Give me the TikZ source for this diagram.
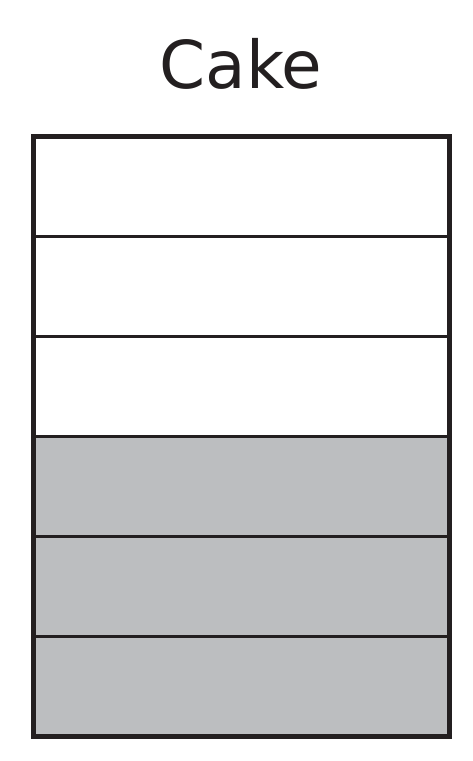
\documentclass[tikz,border=0pt]{standalone}
\usepackage{fontspec}
\setmainfont{DejaVu Sans}
\definecolor{inkdark}{HTML}{231F20}
\definecolor{cakegray}{HTML}{BCBEC0}
\begin{document}
\begin{tikzpicture}[x=1pt,y=-1pt]
        \useasboundingbox (0,0) rectangle (472,761);
        \node[font=\fontsize{66}{70}\selectfont, text=inkdark, anchor=base, inner sep=0pt] (title) at (241,88) {Cake};
        \fill[white] (33,136) rectangle (449.5,436);
        \fill[cakegray] (33,436) rectangle (449.5,736);
        \foreach \y in {236,336,436,536,636}
            \draw[line width=3pt, inkdark] (33,\y) -- (449.5,\y);
        \draw[line width=5pt, inkdark] (33,136) rectangle (449.5,736);
    \end{tikzpicture}
\end{document}
